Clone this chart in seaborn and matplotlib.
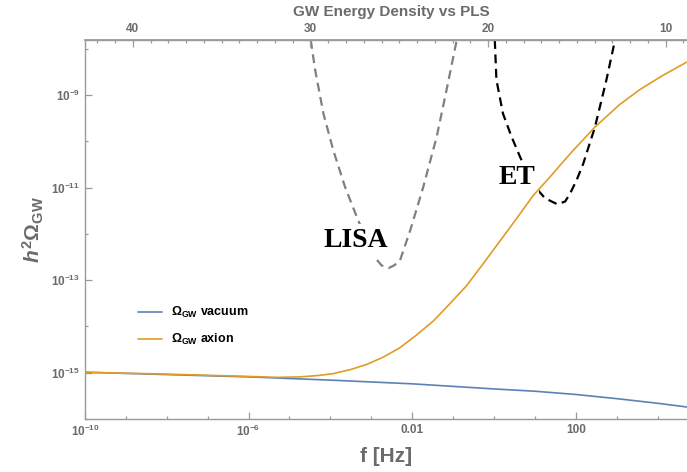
import numpy as np
import matplotlib
matplotlib.use("Agg")
import matplotlib.pyplot as plt
import matplotlib.ticker as mticker
import seaborn as sns

# ── data (log10 values) ──────────────────────────────────────────────────────
vac_logf = [-10, -8, -6, -4, -2, 0, 1, 2, 3, 4, 4.71]
vac_logo = [-14.99, -15.04, -15.09, -15.16, -15.24, -15.35, -15.40, -15.47, -15.56, -15.66, -15.74]

axion_logf = [-10, -8, -6, -5.3, -4.74, -4.3, -3.93, -3.5, -3.11, -2.7, -2.3, -1.9, -1.48, -1.08,
              -0.67, -0.26, 0.15, 0.56, 0.96, 1.37, 1.86, 2.47, 3.08, 3.57, 4.1, 4.71]
axion_logo = [-14.99, -15.03, -15.08, -15.10, -15.09, -15.06, -15.02, -14.93, -14.82, -14.66, -14.46,
              -14.19, -13.88, -13.51, -13.12, -12.64, -12.15, -11.66, -11.17, -10.77, -10.27, -9.69,
              -9.20, -8.88, -8.59, -8.29]

lisa_logf = [-4.48, -4.37, -4.17, -3.93, -3.64, -3.32, -2.91, -2.75, -2.58, -2.44, -2.30, -2.05,
             -1.73, -1.40, -1.16, -0.91]
lisa_logo = [-7.81, -8.47, -9.40, -10.19, -10.99, -11.71, -12.51, -12.68, -12.74, -12.68, -12.58,
             -11.93, -10.99, -9.90, -8.89, -7.81]

et_logf = [0.02, 0.06, 0.22, 0.43, 0.64, 0.85, 1.08, 1.25, 1.55, 1.74, 1.86, 2.02, 2.18, 2.47, 2.75, 2.96]
et_logo = [-7.81, -8.67, -9.40, -9.90, -10.34, -10.75, -11.06, -11.23, -11.36, -11.30, -11.13,
           -10.84, -10.49, -9.69, -8.67, -7.81]

x_ticks = [1e-10, 1e-6, 1e-2, 1e2]
x_labels = [r"$\mathbf{10^{-10}}$", r"$\mathbf{10^{-6}}$", "0.01", "100"]
y_ticks = [1e-15, 1e-13, 1e-11, 1e-9]
y_labels = [r"$\mathbf{10^{-15}}$", r"$\mathbf{10^{-13}}$", r"$\mathbf{10^{-11}}$", r"$\mathbf{10^{-9}}$"]
top_ticks = [10, 20, 30, 40]
top_labels = ["10", "20", "30", "40"]
top_minor = list(range(9, 43))
N_OFFSET = 19.67  # N = N_OFFSET - ln(f)

BLUE = "#5E81B5"
ORANGE = "#E19C24"
GREY = "#808080"
TXT = "#6b6b6b"
AX = "#9a9a9a"

sns.set_theme(style="ticks")
plt.rcParams["font.family"] = ["Liberation Sans", "DejaVu Sans"]
plt.rcParams["font.weight"] = "bold"
plt.rcParams["mathtext.fontset"] = "custom"
plt.rcParams["mathtext.rm"] = "Liberation Sans"
plt.rcParams["mathtext.bf"] = "Liberation Sans:bold"
plt.rcParams["mathtext.it"] = "Liberation Sans:italic"

fig = plt.figure(figsize=(6.87, 4.72), dpi=100)
ax = fig.add_axes([85 / 687, 1 - 419 / 472, 602 / 687, 379 / 472])
ax.set_xscale("log")
ax.set_yscale("log")

p = lambda v: 10.0 ** np.asarray(v)

sns.lineplot(x=p(lisa_logf), y=p(lisa_logo), ax=ax, color=GREY, lw=1.6,
             linestyle=(0, (4, 2.5)), sort=False, zorder=2)
sns.lineplot(x=p(et_logf), y=p(et_logo), ax=ax, color="black", lw=1.6,
             linestyle=(0, (4, 2.5)), sort=False, zorder=2)
sns.lineplot(x=p(vac_logf), y=p(vac_logo), ax=ax, color=BLUE, lw=1.2, zorder=4,
             label=r"$\Omega_{\mathbf{GW}}$ vacuum")
sns.lineplot(x=p(axion_logf), y=p(axion_logo), ax=ax, color=ORANGE, lw=1.2, zorder=4,
             label=r"$\Omega_{\mathbf{GW}}$ axion")

box = dict(facecolor="white", edgecolor="none", pad=3)
ax.text(p(-3.38), p(-12.15), "LISA", family="Liberation Serif", weight="bold", fontsize=20,
        ha="center", va="center", bbox=box, zorder=3, color="black")
ax.text(p(0.55), p(-10.78), "ET", family="Liberation Serif", weight="bold", fontsize=20,
        ha="center", va="center", bbox=box, zorder=3, color="black")

ax.set_xlim(1e-10, p(4.72))
ax.set_ylim(1e-16, p(-7.81))

ax.xaxis.set_major_locator(mticker.FixedLocator(x_ticks))
ax.xaxis.set_major_formatter(mticker.FixedFormatter(x_labels))
ax.xaxis.set_minor_locator(mticker.LogLocator(base=10, subs=(1.0,), numticks=30))
ax.xaxis.set_minor_formatter(mticker.NullFormatter())
ax.yaxis.set_major_locator(mticker.FixedLocator(y_ticks))
ax.yaxis.set_major_formatter(mticker.FixedFormatter(y_labels))
ax.yaxis.set_minor_locator(mticker.LogLocator(base=10, subs=(1.0,), numticks=30))
ax.yaxis.set_minor_formatter(mticker.NullFormatter())

ax.tick_params(which="both", direction="in", colors=AX, labelcolor=TXT, labelsize=8.5, width=0.9)
ax.tick_params(which="major", length=5)
ax.tick_params(which="minor", length=2.5)
for s in ["left", "bottom", "top"]:
    ax.spines[s].set_color(AX)
    ax.spines[s].set_linewidth(1.0)
ax.spines["right"].set_visible(False)

# top axis: e-folds N = N_OFFSET - ln(f), placed on a log twin of the f axis
n2f = lambda n: np.exp(N_OFFSET - np.asarray(n, dtype=float))
top = ax.twiny()
top.set_xscale("log")
top.set_xlim(ax.get_xlim())
top.xaxis.set_major_locator(mticker.FixedLocator(n2f(top_ticks)))
top.xaxis.set_major_formatter(mticker.FixedFormatter(top_labels))
top.xaxis.set_minor_locator(mticker.FixedLocator(n2f(top_minor)))
top.xaxis.set_minor_formatter(mticker.NullFormatter())
top.tick_params(which="both", direction="in", colors=AX, labelcolor=TXT, labelsize=8.5, width=0.9)
top.tick_params(which="major", length=5)
top.tick_params(which="minor", length=2.5)
top.spines["top"].set_color(AX)
for s in ["left", "bottom", "right"]:
    top.spines[s].set_visible(False)

ax.set_xlabel("f [Hz]", fontsize=15, color=TXT, labelpad=6, weight="bold")
ax.set_ylabel(r"$\mathit{h}^{2}\Omega_{\mathbf{GW}}$", fontsize=15, color=TXT, labelpad=4)
fig.text(0.57, 0.975, "GW Energy Density vs PLS", ha="center", va="center",
         fontsize=11, color=TXT, weight="bold")

leg = ax.legend(loc="lower left", bbox_to_anchor=(0.07, 0.16), frameon=False, fontsize=9,
                handlelength=1.9, labelspacing=0.95, handletextpad=0.7)
for t in leg.get_texts():
    t.set_color("black")

fig.savefig("out.png", dpi=100)
